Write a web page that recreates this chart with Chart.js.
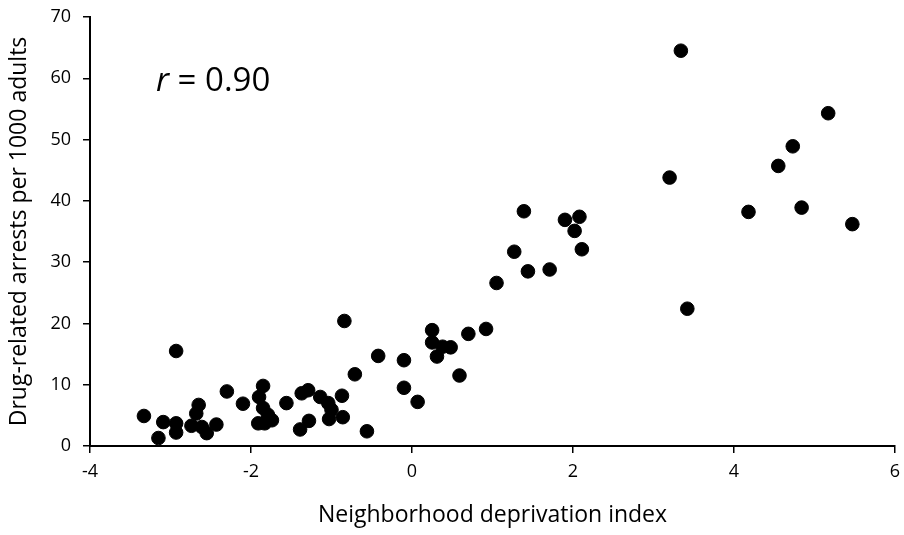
<!DOCTYPE html>
<html>
<head>
<meta charset="utf-8">
<script src="https://cdn.jsdelivr.net/npm/chart.js@4"></script>
<style>
  body { margin: 0; background: #fff; }
</style>
</head>
<body>
<canvas id="myChart" width="904" height="535"></canvas>
<script>
// Neighborhood deprivation index (x) and drug-related arrests per 1000 adults (y)
const deprivation = [
    -3.33, -3.15, -3.09, -2.93, -2.93, -2.93, -2.74, -2.68, -2.65, -2.61, -2.55, -2.43, -2.30,
    -2.10, -1.90, -1.85, -1.85, -1.79, -1.91, -1.83, -1.74, -1.56, -1.37, -1.29, -1.39, -1.28,
    -1.14, -1.04, -1.00, -1.03, -0.87, -0.86, -0.84, -0.71, -0.56, -0.42,
    -0.10, -0.10, 0.07, 0.25, 0.25, 0.31, 0.38, 0.48, 0.59, 0.70, 0.92,
    1.05, 1.27, 1.39, 1.44, 1.71, 1.90, 2.08, 2.02, 2.11,
    3.20, 3.34, 3.42, 4.18, 4.55, 4.73, 4.84, 5.17, 5.47
];
const arrests = [
    4.9, 1.3, 3.9, 15.5, 3.7, 2.2, 3.3, 5.3, 6.7, 3.1, 2.1, 3.5, 8.9,
    6.9, 8.0, 9.8, 6.2, 5.1, 3.7, 3.7, 4.2, 7.0, 8.6, 9.1, 2.7, 4.1,
    8.0, 7.0, 5.9, 4.4, 8.2, 4.7, 20.4, 11.7, 2.4, 14.7,
    14.0, 9.5, 7.2, 18.9, 16.9, 14.6, 16.2, 16.1, 11.5, 18.3, 19.1,
    26.6, 31.7, 38.3, 28.5, 28.8, 36.9, 37.4, 35.1, 32.1,
    43.8, 64.5, 22.4, 38.2, 45.7, 48.9, 38.9, 54.3, 36.2
];
const rLabel = '0.90';

const points = deprivation.map((x, i) => ({ x: x, y: arrests[i] }));

// draws the "r = 0.90" note inside the plot
const rNote = {
    id: 'rNote',
    afterDraw(chart) {
        const c = chart.ctx;
        c.save();
        c.fillStyle = '#000';
        c.textBaseline = 'alphabetic';
        c.font = 'italic 33px "Open Sans"';
        c.fillText('r', 156, 91);
        const w = c.measureText('r').width;
        c.font = '33px "Open Sans"';
        c.fillText(' = ' + rLabel, 156 + w, 91);
        c.restore();
    }
};

const ctx = document.getElementById('myChart').getContext('2d');
new Chart(ctx, {
    type: 'scatter',
    data: {
        datasets: [{
            data: points,
            backgroundColor: '#000',
            borderColor: '#000',
            pointRadius: 6.8,
            pointHoverRadius: 6.8
        }]
    },
    options: {
        responsive: false,
        animation: false,
        layout: { padding: { top: 17, right: 9, left: 0, bottom: 0 } },
        plugins: {
            legend: { display: false },
            tooltip: { enabled: false }
        },
        scales: {
            x: {
                min: -4, max: 6,
                border: { color: '#000', width: 2 },
                grid: { drawOnChartArea: false, color: '#000', tickLength: 7, lineWidth: 1.5 },
                ticks: { stepSize: 2, color: '#000', padding: 8, font: { family: 'Open Sans', size: 18 } },
                title: { display: true, text: 'Neighborhood deprivation index', color: '#000', padding: { top: 10, bottom: 6 }, font: { family: 'Open Sans', size: 23 } },
                afterFit(scale) {
                    scale.height = 89;
                    scale.paddingLeft = 0;
                    scale.paddingRight = 0;
                }
            },
            y: {
                min: 0, max: 70,
                border: { color: '#000', width: 2 },
                grid: { drawOnChartArea: false, color: '#000', tickLength: 7, lineWidth: 1.5 },
                ticks: { stepSize: 10, color: '#000', padding: 12, font: { family: 'Open Sans', size: 18 } },
                title: { display: true, text: 'Drug-related arrests per 1000 adults', color: '#000', padding: { top: 6, bottom: 4 }, font: { family: 'Open Sans', size: 23 } },
                afterFit(scale) {
                    scale.width = 90;
                    scale.paddingTop = 0;
                    scale.paddingBottom = 0;
                }
            }
        }
    },
    plugins: [rNote]
});
</script>
</body>
</html>
